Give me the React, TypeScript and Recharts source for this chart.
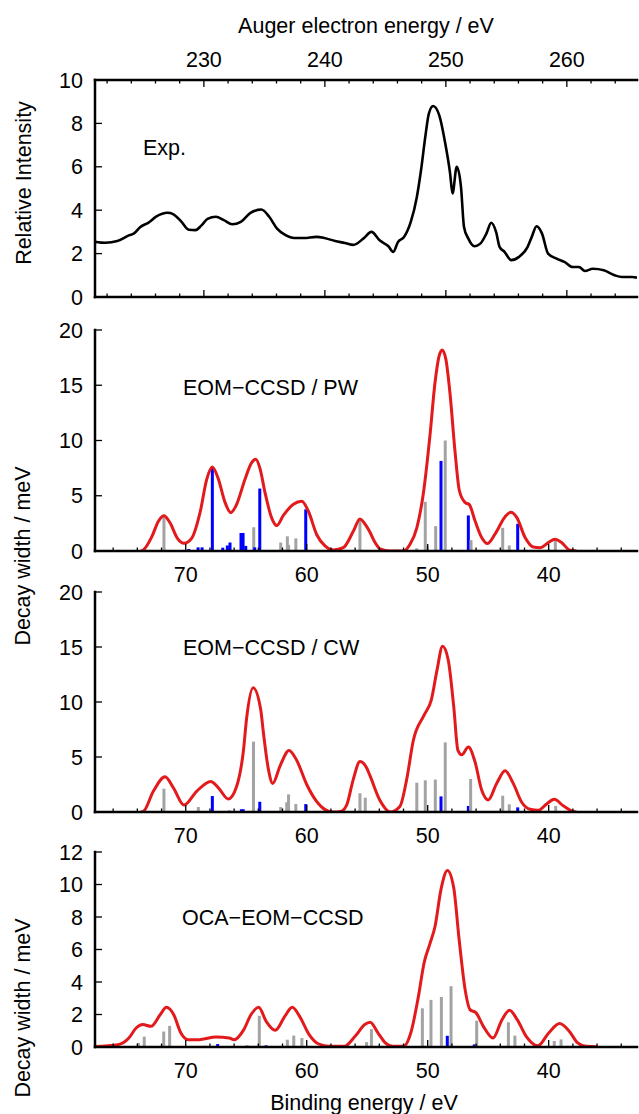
import React from 'react';
import { ComposedChart, Line, Bar, XAxis, YAxis } from 'recharts';

const FONT = '"Liberation Sans", Arial, Helvetica, sans-serif';
const FS = 21.5;
const RED = '#e31a1c';
const GRAY = '#a3a3a3';
const BLUE = '#0000ff';
const MAJOR = 7;
const MINOR = 3.5;

// axes
const beDomain: [number, number] = [32.7, 77.5];
const augerDomain: [number, number] = [221.0, 265.8];
const beTicks = [34, 36, 38, 40, 42, 44, 46, 48, 50, 52, 54, 56, 58, 60, 62, 64, 66, 68, 70, 72, 74, 76];
const augerTicks = [222, 224, 226, 228, 230, 232, 234, 236, 238, 240, 242, 244, 246, 248, 250, 252, 254, 256, 258, 260, 262, 264];
const expTicks = [0, 2, 4, 6, 8, 10];
const eomTicks = [0, 5, 10, 15, 20];
const ocaTicks = [0, 2, 4, 6, 8, 10, 12];

type Pt = [number, number];

// Exp. spectrum: [Auger energy eV, relative intensity]
const expSpectrum: Pt[] = [
  [221.0, 2.54], [221.85, 2.5], [222.85, 2.58], [223.85, 2.85], [224.2, 2.92], [224.75, 3.23],
  [225.4, 3.42], [226.05, 3.7], [227.0, 3.88], [227.45, 3.82], [228.1, 3.5], [228.75, 3.1],
  [229.3, 3.08], [229.8, 3.3], [230.3, 3.6], [231.0, 3.7], [231.65, 3.54], [232.35, 3.35],
  [233.05, 3.46], [233.85, 3.88], [234.75, 4.03], [235.4, 3.7], [236.05, 3.15], [236.75, 2.85],
  [237.45, 2.72], [238.25, 2.72], [239.3, 2.77], [239.95, 2.72], [240.85, 2.58], [241.65, 2.49],
  [242.35, 2.4], [243.2, 2.7], [243.85, 3.0], [244.55, 2.6], [245.25, 2.34], [245.65, 2.08],
  [246.05, 2.54], [246.55, 2.77], [247.1, 3.46], [247.6, 4.6], [247.95, 5.85], [248.3, 7.38],
  [248.6, 8.46], [248.95, 8.8], [249.45, 8.38], [249.95, 7.08], [250.35, 5.7], [250.55, 4.77],
  [250.9, 6.0], [251.25, 5.08], [251.5, 3.23], [251.85, 2.7], [252.35, 2.34], [252.85, 2.46],
  [253.35, 2.92], [253.75, 3.42], [254.15, 3.0], [254.45, 2.3], [254.85, 2.08], [255.4, 1.7],
  [256.05, 1.85], [256.75, 2.3], [257.1, 2.77], [257.5, 3.26], [257.95, 2.92], [258.45, 2.0],
  [259.15, 1.77], [259.8, 1.62], [260.5, 1.38], [261.0, 1.38], [261.5, 1.2], [262.15, 1.3],
  [263.05, 1.23], [263.95, 1.0], [264.55, 0.92], [265.4, 0.92], [265.8, 0.89],
];

// EOM-CCSD / PW: [binding energy eV, decay width meV]
const pwGray: Pt[] = [
  [71.8, 3.3], [64.38, 2.15], [62.15, 0.77], [61.6, 1.33], [61.5, 0.55], [60.9, 1.14],
  [55.6, 2.95], [50.91, 0.25], [50.2, 4.45], [50.05, 0.45], [49.34, 2.25], [48.55, 10.0],
  [46.42, 0.98], [43.8, 2.1], [43.26, 0.5], [39.97, 0.15], [39.45, 0.97],
];
const pwBlue: Pt[] = [
  [69.75, 0.18], [68.98, 0.33], [68.65, 0.33], [67.8, 7.6], [66.94, 0.3], [66.56, 0.5],
  [66.34, 0.77], [65.43, 1.63], [65.26, 1.63], [65.04, 0.46], [64.3, 0.33], [63.88, 5.65],
  [60.08, 3.77], [48.9, 8.15], [46.64, 3.22], [42.56, 2.46],
];
const pwCurve: Pt[] = [
  [73.7, 0], [73.5, 0.1], [72.8, 1.3], [72.26, 2.7], [71.8, 3.2], [71.3, 2.55], [70.7, 1.17],
  [70.14, 0.7], [69.5, 1.17], [68.82, 3.47], [68.26, 6.5], [67.8, 7.6], [67.3, 6.5], [66.75, 4.4],
  [66.28, 3.47], [65.79, 4.23], [65.1, 6.5], [64.55, 8.0], [64.21, 8.3], [63.86, 7.45], [63.45, 5.3],
  [62.9, 3.0], [62.48, 2.3], [61.93, 3.22], [61.1, 4.23], [60.41, 4.5], [59.87, 3.62], [59.17, 1.47],
  [58.49, 0.46], [57.8, 0.1], [56.98, 0.3], [56.15, 1.78], [55.6, 2.9], [55.04, 2.2], [54.77, 1.7],
  [54.4, 0.85], [53.94, 0.2], [53.1, 0], [52.0, 0], [51.46, 0.6], [50.9, 2.1], [50.36, 5.2],
  [49.8, 10.6], [49.4, 15.2], [49.07, 17.6], [48.8, 18.2], [48.49, 17.3], [48.16, 14.3],
  [47.75, 9.1], [47.39, 5.5], [46.92, 4.4], [46.56, 4.2], [46.09, 2.74], [45.54, 1.22],
  [45.07, 0.67], [44.44, 1.52], [43.6, 3.1], [43.14, 3.5], [42.64, 3.04], [41.95, 1.22],
  [41.27, 0.36], [40.72, 0.3], [40.03, 0.76], [39.48, 1.06], [38.93, 0.76], [38.24, 0.06], [37.7, 0],
];

// EOM-CCSD / CW
const cwGray: Pt[] = [
  [71.8, 2.12], [68.96, 0.45], [64.4, 6.4], [62.15, 0.45], [61.65, 0.88], [61.5, 1.6], [60.9, 0.72],
  [55.6, 1.7], [55.16, 1.3], [50.9, 2.66], [50.2, 2.88], [49.37, 2.95], [48.55, 6.33], [46.45, 3.0],
  [43.8, 1.48], [43.26, 0.7], [39.42, 0.55],
];
const cwBlue: Pt[] = [
  [67.8, 1.45], [66.4, 0.12], [65.4, 0.25], [65.25, 0.25], [63.88, 0.93], [60.08, 0.72],
  [48.9, 1.42], [46.64, 0.55], [42.56, 0.42],
];
const cwCurve: Pt[] = [
  [73.7, 0], [73.5, 0.05], [72.68, 1.88], [71.71, 3.2], [71.02, 2.2], [70.14, 0.63], [69.1, 1.88],
  [67.93, 2.78], [67.3, 2.2], [66.48, 1.19], [65.79, 2.34], [65.24, 5.5], [64.96, 8.6], [64.43, 11.3],
  [63.8, 9.3], [63.59, 7.3], [63.17, 3.9], [62.81, 2.6], [62.2, 4.2], [61.46, 5.6], [60.83, 4.7],
  [60.0, 2.5], [59.17, 0.94], [58.49, 0.22], [57.8, 0], [57.2, 0.05], [56.7, 0.63], [56.15, 2.97],
  [55.6, 4.6], [55.04, 4.0], [54.77, 3.3], [53.94, 1.04], [53.1, 0], [52.3, 0.5], [51.74, 2.94],
  [51.19, 6.5], [50.3, 8.8], [49.7, 10.2], [49.23, 12.9], [48.77, 15.07], [48.3, 13.8], [47.85, 9.6],
  [47.5, 5.6], [47.19, 5.2], [46.64, 5.9], [46.1, 4.6], [45.54, 2.0], [45.0, 1.1], [44.3, 2.6],
  [43.6, 3.75], [42.93, 2.6], [42.23, 0.89], [41.54, 0.25], [40.86, 0.16], [40.17, 0.73],
  [39.54, 1.15], [38.8, 0.57], [37.97, 0.05], [37.7, 0],
];

// OCA-EOM-CCSD
const ocaGray: Pt[] = [
  [73.9, 0.25], [73.43, 0.64], [71.82, 0.95], [71.33, 1.3], [68.4, 0.08], [64.93, 0.12],
  [63.92, 1.92], [61.6, 0.45], [61.07, 0.7], [60.4, 0.55], [55.05, 0.3], [54.65, 1.1],
  [50.44, 2.38], [49.73, 2.9], [48.87, 3.08], [48.07, 3.74], [45.95, 1.62], [43.33, 1.52],
  [42.79, 0.7], [39.54, 0.37], [38.98, 0.47],
];
const ocaBlue: Pt[] = [[67.36, 0.18], [63.36, 0.1], [48.38, 0.69], [46.15, 0.16]];
const ocaCurve: Pt[] = [
  [77.5, 0.03], [75.6, 0.14], [74.7, 0.55], [74.1, 1.17], [73.55, 1.38], [72.87, 1.27], [72.1, 2.0],
  [71.6, 2.44], [71.0, 2.0], [70.4, 0.86], [69.8, 0.45], [68.9, 0.45], [67.5, 0.62], [66.4, 0.55],
  [66.0, 0.45], [65.2, 1.07], [64.6, 2.0], [63.97, 2.44], [63.35, 1.58], [62.6, 1.03], [61.8, 1.9],
  [61.2, 2.44], [60.6, 1.9], [59.8, 0.76], [59.05, 0.2], [58.1, 0.04], [56.9, 0.04], [56.0, 0.66],
  [55.2, 1.38], [54.76, 1.52], [54.1, 0.86], [53.5, 0.25], [52.9, 0.04], [52.0, 0.04], [51.4, 0.86],
  [50.77, 3.1], [50.3, 5.17], [49.84, 6.3], [49.4, 7.4], [48.9, 9.7], [48.37, 10.86], [47.85, 9.8],
  [47.4, 6.6], [46.9, 3.5], [46.5, 2.3], [46.0, 2.1], [45.4, 1.27], [44.6, 0.55], [43.86, 1.68],
  [43.24, 2.26], [42.6, 1.68], [41.86, 0.66], [40.9, 0.08], [40.0, 0.86], [39.1, 1.44], [38.3, 0.97],
  [37.6, 0.25], [36.9, 0.04], [36.0, 0.02],
];

type Row = { be: number; w?: number; kind?: 'g' | 'b'; fit?: number };

function buildRows(gray: Pt[], blue: Pt[], curve: Pt[]): Row[] {
  const rows: Row[] = [
    ...gray.map(([be, w]) => ({ be, w, kind: 'g' as const })),
    ...blue.map(([be, w]) => ({ be, w, kind: 'b' as const })),
    ...curve.map(([be, fit]) => ({ be, fit })),
  ];
  return rows.sort((a, b) => b.be - a.be);
}

const isMajor = (v: number, step: number) => Math.abs(v / step - Math.round(v / step)) < 1e-6;

const txt = { fontFamily: FONT, fontSize: FS, fill: '#000' };

const bottomTick = (labels: boolean) => (p: any) => {
  const major = isMajor(p.payload.value, 10);
  return (
    <g>
      <line x1={p.x} x2={p.x} y1={p.y} y2={p.y - (major ? MAJOR : MINOR)} stroke="#000" strokeWidth={1.3} />
      {labels && major && (
        <text x={p.x} y={p.y + 23} dy="0.35em" textAnchor="middle" style={txt}>{p.payload.value}</text>
      )}
    </g>
  );
};

const topTick = (labels: boolean) => (p: any) => {
  const major = isMajor(p.payload.value, 10);
  return (
    <g>
      <line x1={p.x} x2={p.x} y1={p.y} y2={p.y + (major ? MAJOR : MINOR)} stroke="#000" strokeWidth={1.3} />
      {labels && major && (
        <text x={p.x} y={p.y - 21} dy="0.35em" textAnchor="middle" style={txt}>{p.payload.value}</text>
      )}
    </g>
  );
};

const leftTick = (p: any) => (
  <g>
    <line x1={p.x} x2={p.x + MAJOR} y1={p.y} y2={p.y} stroke="#000" strokeWidth={1.3} />
    <text x={p.x - 12} y={p.y} dy="0.35em" textAnchor="end" style={txt}>{p.payload.value}</text>
  </g>
);

const rightTick = (p: any) => (
  <line x1={p.x} x2={p.x - MAJOR} y1={p.y} y2={p.y} stroke="#000" strokeWidth={1.3} />
);

// stick drawn 3px wide, centred on the bar slot the library computes
const Stick = (p: any) => {
  const { x, y, width, height, payload } = p;
  if (!isFinite(x) || !isFinite(y) || !isFinite(height) || height <= 0) return null;
  const cx = x + (width || 0) / 2;
  return <rect x={cx - 1.5} y={y} width={3} height={height} fill={payload && payload.kind === 'b' ? BLUE : GRAY} />;
};

const frame = { stroke: '#000', strokeWidth: 2.5, strokeLinecap: 'square' as const };

function ExpPanel() {
  const rows = expSpectrum.map(([a, v]) => ({ a, v }));
  return (
    <div style={{ position: 'absolute', left: 0, top: 0 }}>
      <ComposedChart width={639} height={320} data={rows} margin={{ top: 0, right: 2, bottom: 0, left: 0 }}>
        <XAxis xAxisId="t" orientation="top" type="number" dataKey="a" domain={augerDomain} allowDataOverflow
          ticks={augerTicks} interval={0} height={80} tickSize={0} tickMargin={0} tickLine={false}
          axisLine={frame} tick={topTick(true)} />
        <XAxis xAxisId="b" orientation="bottom" type="number" dataKey="a" domain={augerDomain} allowDataOverflow
          ticks={augerTicks} interval={0} height={23} tickSize={0} tickMargin={0} tickLine={false}
          axisLine={frame} tick={bottomTick(false)} />
        <YAxis yAxisId="l" type="number" domain={[0, 10]} ticks={expTicks} interval={0} width={95}
          tickSize={0} tickMargin={0} tickLine={false} axisLine={frame} tick={leftTick} allowDataOverflow />
        <YAxis yAxisId="r" orientation="right" type="number" domain={[0, 10]} ticks={expTicks} interval={0}
          width={0} tickSize={0} tickMargin={0} tickLine={false} axisLine={frame} tick={rightTick} allowDataOverflow />
        <Line xAxisId="t" yAxisId="l" dataKey="v" type="monotone" stroke="#000" strokeWidth={2.6}
          dot={false} activeDot={false} isAnimationActive={false} />
      </ComposedChart>
    </div>
  );
}

type PanelProps = { top: number; plotH: number; yMax: number; yTicks: number[]; rows: Row[] };

function StickPanel({ top, plotH, yMax, yTicks, rows }: PanelProps) {
  return (
    <div style={{ position: 'absolute', left: 0, top: top - 10 }}>
      <ComposedChart width={639} height={plotH + 50} data={rows} margin={{ top: 10, right: 2, bottom: 0, left: 0 }}>
        <XAxis xAxisId="t" orientation="top" type="number" dataKey="be" domain={beDomain} reversed allowDataOverflow
          ticks={beTicks} interval={0} height={0} tickSize={0} tickMargin={0} tickLine={false}
          axisLine={frame} tick={topTick(false)} />
        <XAxis xAxisId="b" orientation="bottom" type="number" dataKey="be" domain={beDomain} reversed allowDataOverflow
          ticks={beTicks} interval={0} height={40} tickSize={0} tickMargin={0} tickLine={false}
          axisLine={frame} tick={bottomTick(true)} />
        <YAxis yAxisId="l" type="number" domain={[0, yMax]} ticks={yTicks} interval={0} width={95}
          tickSize={0} tickMargin={0} tickLine={false} axisLine={frame} tick={leftTick} allowDataOverflow />
        <YAxis yAxisId="r" orientation="right" type="number" domain={[0, yMax]} ticks={yTicks} interval={0}
          width={0} tickSize={0} tickMargin={0} tickLine={false} axisLine={frame} tick={rightTick} allowDataOverflow />
        <Bar xAxisId="b" yAxisId="l" dataKey="w" barSize={3} shape={Stick} isAnimationActive={false} />
        <Line xAxisId="b" yAxisId="l" dataKey="fit" type="monotone" stroke={RED} strokeWidth={3}
          connectNulls dot={false} activeDot={false} isAnimationActive={false} />
      </ComposedChart>
    </div>
  );
}

export default function App() {
  const pwRows = buildRows(pwGray, pwBlue, pwCurve);
  const cwRows = buildRows(cwGray, cwBlue, cwCurve);
  const ocaRows = buildRows(ocaGray, ocaBlue, ocaCurve);
  return (
    <div style={{ position: 'absolute', left: 0, top: 0, width: 639, height: 1114, background: '#fff' }}>
      <ExpPanel />
      <StickPanel top={330} plotH={221} yMax={20} yTicks={eomTicks} rows={pwRows} />
      <StickPanel top={592} plotH={220} yMax={20} yTicks={eomTicks} rows={cwRows} />
      <StickPanel top={852} plotH={195} yMax={12} yTicks={ocaTicks} rows={ocaRows} />
      <svg width={639} height={1114} style={{ position: 'absolute', left: 0, top: 0, pointerEvents: 'none' }}>
        <g style={txt}>
          <text x={366} y={25} dy="0.35em" textAnchor="middle">Auger electron energy / eV</text>
          <text x={364} y={1102} dy="0.35em" textAnchor="middle">Binding energy / eV</text>
          <text x={143} y={147} dy="0.35em">Exp.</text>
          <text x={183} y={387} dy="0.35em">EOM−CCSD / PW</text>
          <text x={183} y={647} dy="0.35em">EOM−CCSD / CW</text>
          <text x={182} y={917} dy="0.35em">OCA−EOM−CCSD</text>
          <text transform="translate(23,183) rotate(-90)" dy="0.35em" textAnchor="middle">Relative Intensity</text>
          <text transform="translate(22,556) rotate(-90)" dy="0.35em" textAnchor="middle">Decay width / meV</text>
          <text transform="translate(22,1008) rotate(-90)" dy="0.35em" textAnchor="middle">Decay width / meV</text>
        </g>
      </svg>
    </div>
  );
}
